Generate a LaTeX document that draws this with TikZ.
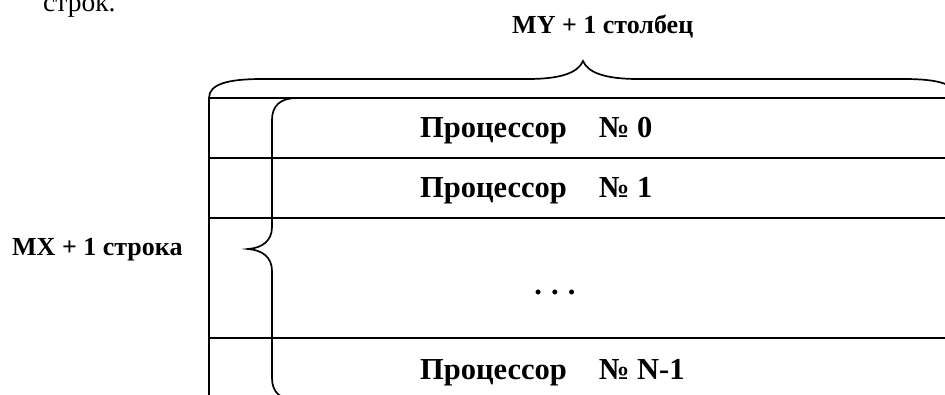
\documentclass[tikz,border=0pt]{standalone}
\usepackage{fontspec}
\setmainfont{Liberation Serif}
\begin{document}
\begin{tikzpicture}[x=1pt,y=-1pt,
  rule/.style={line width=1.4pt},
  bracepath/.style={line width=1.7pt, line join=miter},
  lbl/.style={font=\bfseries\fontsize{26}{30}\selectfont, inner sep=0pt, anchor=base west},
  proc/.style={font=\bfseries\fontsize{30.5}{34}\selectfont, inner sep=0pt, anchor=base west},
  plain/.style={font=\fontsize{27.5}{30}\selectfont, inner sep=0pt, anchor=base west}]
  \useasboundingbox (0,0) rectangle (945,394);
  \clip (0,0) rectangle (945,394);

  % tail of the preceding paragraph
  \node[plain] (tail) at (43,11) {строк.};

  % table frame: left edge and row separators
  \draw[rule] (209,98) -- (209,400);
  \draw[rule] (209,98) -- (960,98);
  \draw[rule] (209,158) -- (960,158);
  \draw[rule] (209,218) -- (960,218);
  \draw[rule] (209,338) -- (960,338);

  % brace over the columns
  \draw[bracepath] (209,98) .. controls (209,84) and (228,79) .. (262,79)
    -- (528,79) .. controls (560,79) and (578,73) .. (583,61)
    .. controls (588,73) and (606,79) .. (638,79)
    -- (904,79) .. controls (938,79) and (957,84) .. (957,98);

  % brace beside the rows
  \draw[bracepath] (297,98) .. controls (280,98) and (272,106) .. (272,120)
    -- (272,227) .. controls (272,241) and (262,248) .. (248,249)
    .. controls (262,250) and (272,257) .. (272,271)
    -- (272,378) .. controls (272,392) and (280,400) .. (297,400);

  % labels
  \node[lbl] (cols) at (512,33) {MY + 1 столбец};
  \node[lbl] (rows) at (12,255) {MX + 1 строка};
  \node[proc] (p0) at (420,137) {Процессор\hspace{1.05em}№ 0};
  \node[proc] (p1) at (420,197) {Процессор\hspace{1.05em}№ 1};
  \node[proc, anchor=base] (dots) at (555,294) {.\hspace{0.3em}.\hspace{0.3em}.};
  \node[proc] (pn) at (420,379) {Процессор\hspace{1.05em}№ N-1};
\end{tikzpicture}
\end{document}
